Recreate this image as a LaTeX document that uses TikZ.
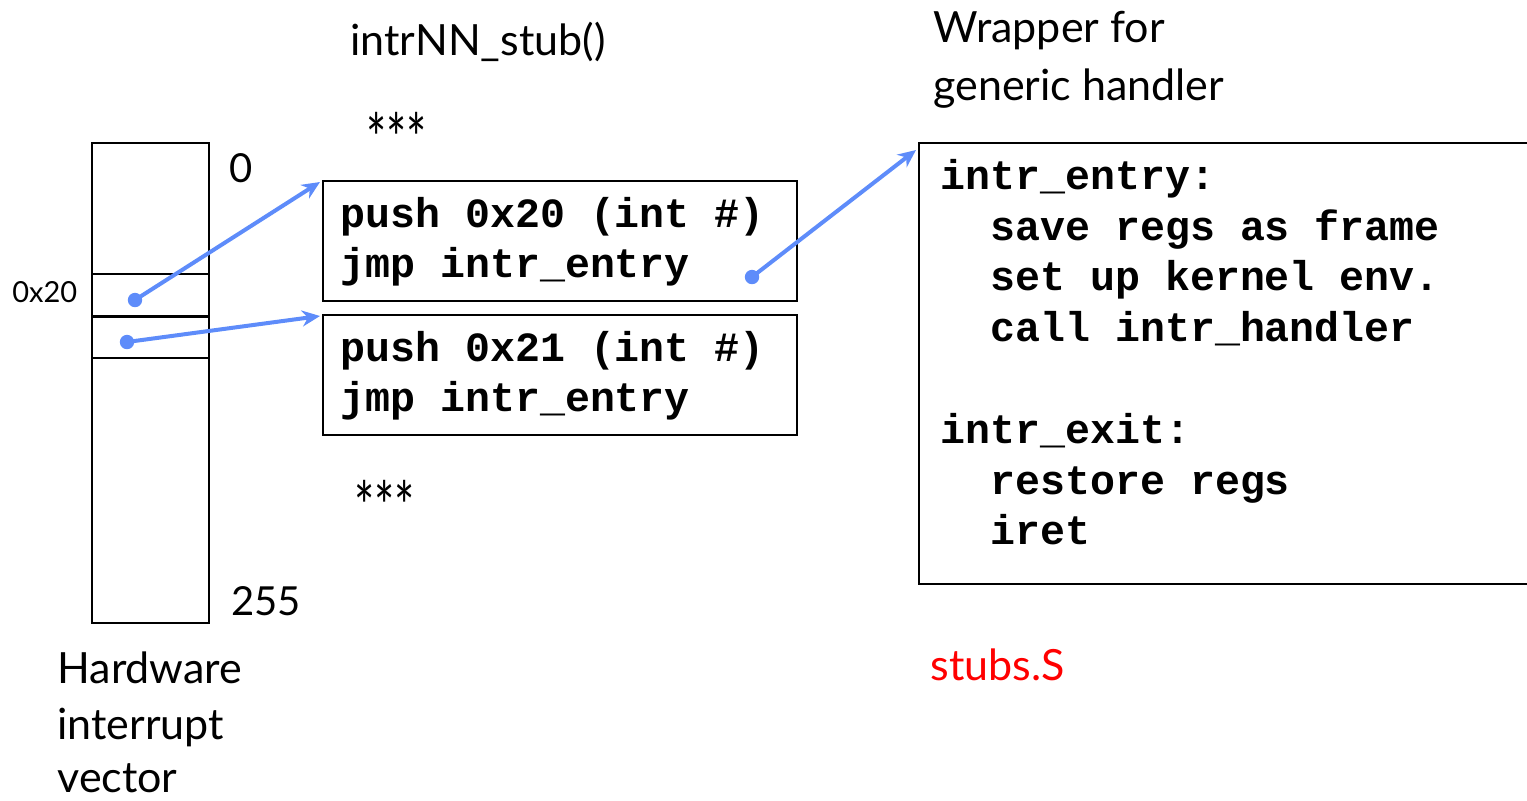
\documentclass[tikz,border=0pt]{standalone}
\usepackage{fontspec}
\setmainfont{Lato}
\newfontfamily\codefont{Liberation Mono}
\usetikzlibrary{arrows.meta}
\definecolor{arrowblue}{RGB}{94,140,250}
\definecolor{labelred}{RGB}{255,0,0}
\tikzset{
  lbl/.style={inner sep=0pt, anchor=base west, font=\fontsize{20}{29}\selectfont},
  word/.style={lbl, font=\fontsize{21.5}{29}\selectfont},
  stars/.style={inner sep=0pt, anchor=west, font=\fontsize{34}{34}\selectfont},
  code/.style={inner sep=0pt, anchor=base west, font=\codefont\bfseries\fontsize{20.8}{25}\selectfont},
  stubbox/.style={draw, line width=0.75pt, minimum width=237pt, minimum height=60pt, anchor=north west, inner sep=0pt},
  slotbox/.style={draw, line width=0.75pt, minimum width=58.5pt, minimum height=21pt, anchor=north west, inner sep=0pt},
  ptr/.style={arrowblue, line width=2pt, -{Stealth[length=9pt,width=8pt]}},
  dotmark/.style={fill=arrowblue, draw=none},
}
\begin{document}
\begin{tikzpicture}[x=0.5pt,y=-0.5pt]
\useasboundingbox (0,0) rectangle (1527,800);
% interrupt vector
\node[draw, line width=0.75pt, minimum width=58.5pt, minimum height=240pt, anchor=north west, inner sep=0pt] (vec) at (91,142) {};
\node[slotbox] (slotA) at (91,273) {};
\node[slotbox] (slotB) at (91,315) {};
\draw[line width=1.4pt] (slotA.south west) -- (slotA.south east);
\node[lbl] (zero) at (229,182) {0};
\node[lbl] (last) at (231,615) {255};
\node[lbl, font=\fontsize{14.5}{18}\selectfont] (hex) at (12,302) {0x20};
\node[word] (hw1) at (57,683) {Hardware};
\node[word] (hw2) at (57,739) {interrupt};
\node[word] (hw3) at (57,792) {vector};
% stubs
\node[word] (stubtitle) at (350,55) {intrNN\_stub()};
\node[stars] (dots1) at (366,138) {\scalebox{0.7}[1]{***}};
\node[stars] (dots2) at (354,506) {\scalebox{0.7}[1]{***}};
\node[stubbox] (stubA) at (322,180) {};
\node[stubbox] (stubB) at (322,314) {};
\node[code] (a1) at (340,227) {push 0x20 (int \#)};
\node[code] (a2) at (340,277) {jmp intr\_entry};
\node[code] (b1) at (340,361) {push 0x21 (int \#)};
\node[code] (b2) at (340,411) {jmp intr\_entry};
% wrapper
\node[word] (w1) at (933,42) {Wrapper for};
\node[word] (w2) at (933,100) {generic handler};
\node[draw, line width=0.75pt, minimum width=310pt, minimum height=220.5pt, anchor=north west, inner sep=0pt] (wrap) at (918,142) {};
\node[code] (c1) at (940,189) {intr\_entry:};
\node[code] (c2) at (990,240) {save regs as frame};
\node[code] (c3) at (990,290) {set up kernel env.};
\node[code] (c4) at (990,341) {call intr\_handler};
\node[code] (c5) at (940,443) {intr\_exit:};
\node[code] (c6) at (990,494) {restore regs};
\node[code] (c7) at (990,544) {iret};
\node[word, text=labelred] (file) at (930,680) {stubs.S};
% pointers
\coordinate (pA) at (135,300);
\coordinate (pB) at (127,342);
\coordinate (pC) at (752,277);
\coordinate (tA) at (320,182);
\coordinate (tB) at (320,316);
\coordinate (tC) at (916,150);
\draw[ptr] (pA) -- (tA);
\draw[ptr] (pB) -- (tB);
\draw[ptr] (pC) -- (tC);
\fill[dotmark] (pA) circle (3.6pt);
\fill[dotmark] (pB) circle (3.6pt);
\fill[dotmark] (pC) circle (3.6pt);
\end{tikzpicture}
\end{document}
